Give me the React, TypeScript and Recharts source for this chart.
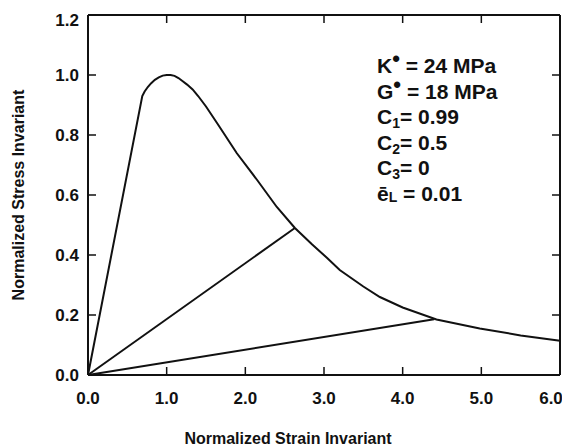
import { LineChart, Line, XAxis, YAxis, Customized } from "recharts"

// main loading curve (normalized strain vs normalized stress)
const curveStrain = [0, 0.69, 0.72, 0.76, 0.8, 0.85, 0.9, 0.95, 1.0, 1.05, 1.1, 1.15, 1.2, 1.26, 1.33, 1.4, 1.5, 1.64, 1.89, 2.15, 2.4, 2.63, 2.85, 3.04, 3.2, 3.5, 3.71, 4.0, 4.43, 4.98, 5.5, 6.0]
const curveStress = [0, 0.93, 0.945, 0.96, 0.972, 0.984, 0.992, 0.998, 1.0, 1.0, 0.997, 0.99, 0.98, 0.968, 0.952, 0.93, 0.895, 0.84, 0.74, 0.65, 0.56, 0.49, 0.435, 0.39, 0.35, 0.295, 0.26, 0.225, 0.185, 0.155, 0.132, 0.114]

// unloading / reloading paths
const midStrain = [0, 2.63]
const midStress = [0, 0.49]
const lowStrain = [0, 4.4]
const lowStress = [0, 0.186]

const xTicks = [0, 1, 2, 3, 4, 5, 6]
const yTicks = [0, 0.2, 0.4, 0.6, 0.8, 1.0, 1.2]

const toPoints = (xs: number[], ys: number[]) => xs.map((x, i) => ({ x, y: ys[i] }))

const curveData = toPoints(curveStrain, curveStress)
const midData = toPoints(midStrain, midStress)
const lowData = toPoints(lowStrain, lowStress)

const FONT = "'Liberation Sans', Arial, Helvetica, sans-serif"
const INK = "#111"

const XTick = (props: any) => {
  const last = props.payload.value === xTicks[xTicks.length - 1]
  return (
    <text x={props.x} y={props.y} dx={last ? -9 : 0} dy="0.355em" textAnchor="middle" fontFamily={FONT} fontWeight="bold" fontSize={17} fill={INK}>
      {Number(props.payload.value).toFixed(1)}
    </text>
  )
}

const YTick = (props: any) => (
  <text x={props.x} y={Math.max(props.y, 12)} dy="0.355em" textAnchor="end" fontFamily={FONT} fontWeight="bold" fontSize={17} fill={INK}>
    {Number(props.payload.value).toFixed(1)}
  </text>
)

const NoTick = () => <g />

const Annotations = () => {
  const x = 369
  const sub = { fontSize: 14 }
  return (
    <g fontFamily={FONT} fontWeight="bold" fontSize={21} fill={INK}>
      <text x={x} y={65}>
        K<tspan fontSize={22} dy={-7}>•</tspan>
        <tspan dy={7}> = 24 MPa</tspan>
      </text>
      <text x={x} y={91}>
        G<tspan fontSize={22} dy={-7}>•</tspan>
        <tspan dy={7}> = 18 MPa</tspan>
      </text>
      <text x={x} y={116}>
        C<tspan {...sub} dy={4}>1</tspan>
        <tspan dy={-4}>= 0.99</tspan>
      </text>
      <text x={x} y={142}>
        C<tspan {...sub} dy={4}>2</tspan>
        <tspan dy={-4}>= 0.5</tspan>
      </text>
      <text x={x} y={167}>
        C<tspan {...sub} dy={4}>3</tspan>
        <tspan dy={-4}>= 0</tspan>
      </text>
      <text x={x} y={193}>
        ē<tspan {...sub} dy={1}>L</tspan>
        <tspan dy={-1}> = 0.01</tspan>
      </text>
      <text x={280} y={430} dy="0.355em" textAnchor="middle" fontSize={16}>
        Normalized Strain Invariant
      </text>
    </g>
  )
}

export default function App() {
  const axisLine = { stroke: INK, strokeWidth: 2 }
  const tickLine = { stroke: INK, strokeWidth: 1.5 }
  return (
    <div style={{ width: 562 }}>
      <style>{`svg { overflow: visible !important; }`}</style>
      <LineChart width={562} height={439} margin={{ top: 7, right: 10, bottom: 0, left: 0 }}>
        {/* labelled axes */}
        <XAxis
          dataKey="x"
          type="number"
          domain={[0, 6]}
          ticks={xTicks}
          height={72}
          tickSize={0}
          tickMargin={23}
          axisLine={axisLine}
          tickLine={false}
          tick={<XTick />}
          interval={0}
        />
        <YAxis
          type="number"
          domain={[0, 1.2]}
          ticks={yTicks}
          width={80}
          tickSize={0}
          tickMargin={9}
          axisLine={axisLine}
          tickLine={false}
          tick={<YTick />}
          interval={0}
          label={{
            value: "Normalized Stress Invariant",
            angle: -90,
            position: "insideLeft",
            offset: 10,
            style: { textAnchor: "middle", fontFamily: FONT, fontWeight: "bold", fontSize: 16, fill: INK },
          }}
        />
        {/* mirrored axes: inward tick marks on all four sides (same domains) */}
        <XAxis xAxisId="bt" orientation="bottom" mirror type="number" dataKey="x" domain={[0, 6]} ticks={xTicks} height={10}
          tickSize={8} axisLine={axisLine} tickLine={tickLine} tick={<NoTick />} interval={0} />
        <XAxis xAxisId="tt" orientation="top" mirror type="number" dataKey="x" domain={[0, 6]} ticks={xTicks} height={10}
          tickSize={8} axisLine={axisLine} tickLine={tickLine} tick={<NoTick />} interval={0} />
        <YAxis yAxisId="ly" orientation="left" mirror type="number" domain={[0, 1.2]} ticks={yTicks} width={10}
          tickSize={8} axisLine={axisLine} tickLine={tickLine} tick={<NoTick />} interval={0} />
        <YAxis yAxisId="ry" orientation="right" mirror type="number" domain={[0, 1.2]} ticks={yTicks} width={10}
          tickSize={8} axisLine={axisLine} tickLine={tickLine} tick={<NoTick />} interval={0} />
        <Line data={curveData} dataKey="y" type="linear" stroke={INK} strokeWidth={2} dot={false} isAnimationActive={false} />
        <Line data={midData} xAxisId="bt" yAxisId="ly" dataKey="y" type="linear" stroke={INK} strokeWidth={2} dot={false} isAnimationActive={false} />
        <Line data={lowData} xAxisId="tt" yAxisId="ry" dataKey="y" type="linear" stroke={INK} strokeWidth={2} dot={false} isAnimationActive={false} />
        <Customized component={Annotations} />
      </LineChart>
    </div>
  )
}
